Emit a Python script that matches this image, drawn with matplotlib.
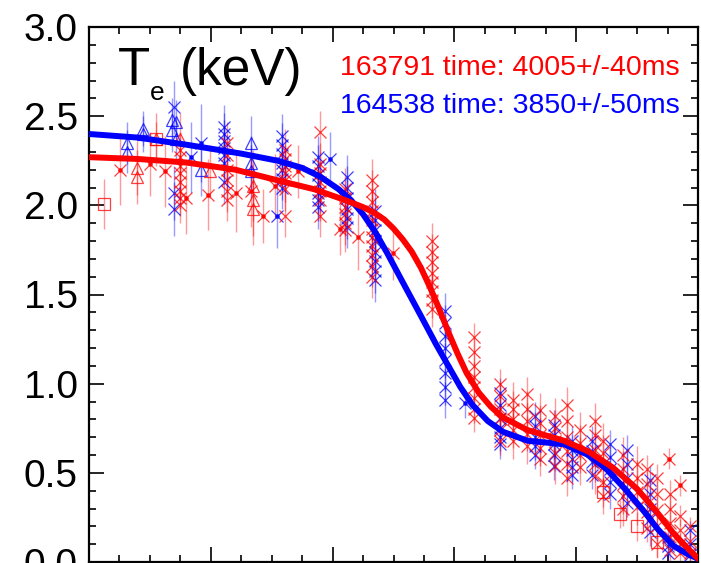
#!/usr/bin/env python3
"""
Electron temperature profiles for shots 163791 and 164538 with fitted curves
"""

import numpy as np
import matplotlib.pyplot as plt
from matplotlib.ticker import MultipleLocator

plt.rcParams['font.family'] = ['Liberation Sans', 'DejaVu Sans']

RED = '#ff0000'
BLUE = '#0000ff'

# Fitted profiles
red_fit_rho = [0.00, 0.08, 0.16, 0.24, 0.31, 0.37, 0.42, 0.45, 0.47, 0.485,
               0.50, 0.515, 0.53, 0.545, 0.56, 0.575, 0.59, 0.605, 0.62, 0.64,
               0.66, 0.68, 0.72, 0.78, 0.82, 0.86, 0.90, 0.93, 0.96, 0.985,
               1.00]
red_fit_te = [2.27, 2.26, 2.24, 2.20, 2.14, 2.09, 2.03, 1.99, 1.955, 1.92,
              1.87, 1.81, 1.74, 1.65, 1.54, 1.42, 1.29, 1.17, 1.06, 0.95,
              0.87, 0.81, 0.74, 0.68, 0.62, 0.53, 0.41, 0.29, 0.16, 0.07,
              0.02]

blue_fit_rho = [0.00, 0.08, 0.16, 0.25, 0.31, 0.35, 0.38, 0.41, 0.43, 0.45,
                0.47, 0.49, 0.515, 0.545, 0.57, 0.59, 0.61, 0.63, 0.655, 0.68,
                0.72, 0.78, 0.82, 0.85, 0.88, 0.91, 0.935, 0.96, 0.985, 1.00]
blue_fit_te = [2.40, 2.38, 2.34, 2.29, 2.25, 2.21, 2.16, 2.09, 2.03, 1.95,
               1.85, 1.73, 1.57, 1.38, 1.22, 1.10, 0.98, 0.88, 0.79, 0.73,
               0.68, 0.66, 0.60, 0.52, 0.41, 0.29, 0.18, 0.09, 0.04, 0.02]

# Red (163791) chord columns
red_col_rho = [0.149, 0.227, 0.322, 0.379, 0.420, 0.465, 0.563, 0.632, 0.675,
               0.696, 0.719, 0.741, 0.765, 0.785, 0.806, 0.831, 0.844, 0.877,
               0.900, 0.916, 0.933, 0.954, 0.970, 0.987]
red_col_te = [
    [2.31, 2.27, 2.22, 2.18, 2.13, 2.08, 2.04, 2.00],
    [2.35, 2.28, 2.20, 2.14, 2.08, 2.03],
    [2.31, 2.26, 2.22, 2.18, 2.14, 2.09, 1.94],
    [2.41, 2.23, 2.18, 2.13, 2.08, 2.03, 1.94],
    [2.09, 2.04, 1.99, 1.95, 1.90, 1.86],
    [2.14, 2.08, 2.02, 1.97, 1.92, 1.87, 1.82, 1.77, 1.72, 1.66, 1.60],
    [1.80, 1.74, 1.68, 1.62, 1.57, 1.52, 1.47, 1.42],
    [1.26, 1.18, 1.10, 1.04, 0.98, 0.92, 0.86, 0.81],
    [1.00, 0.93, 0.86, 0.80, 0.74, 0.68],
    [0.91, 0.86, 0.80, 0.74, 0.68],
    [0.94, 0.86, 0.79, 0.72, 0.65],
    [0.85, 0.78, 0.71, 0.64, 0.58],
    [0.82, 0.75, 0.68, 0.61, 0.54],
    [0.88, 0.79, 0.70, 0.62, 0.55, 0.47],
    [0.74, 0.67, 0.60, 0.53],
    [0.79, 0.71, 0.63, 0.55, 0.48],
    [0.68, 0.61, 0.53, 0.45, 0.37],
    [0.60, 0.52, 0.44, 0.37, 0.30],
    [0.55, 0.47, 0.39, 0.31],
    [0.52, 0.44, 0.36, 0.28, 0.19],
    [0.47, 0.38, 0.29, 0.20, 0.10],
    [0.38, 0.30, 0.22, 0.14, 0.07],
    [0.26, 0.18, 0.10, 0.05],
    [0.20, 0.12, 0.05],
]
red_col_err = [0.10, 0.12, 0.12, 0.12, 0.12, 0.12, 0.10, 0.08, 0.08,
               0.10, 0.10, 0.10, 0.10, 0.10, 0.10, 0.10, 0.10, 0.10,
               0.10, 0.08, 0.08, 0.08, 0.06, 0.05]

# Red single points (asterisks, triangles, squares)
red_star_rho = [0.051, 0.100, 0.125, 0.195, 0.241, 0.266, 0.305, 0.343,
                0.412, 0.442, 0.499, 0.952, 0.970, 0.286, 0.160]
red_star_te = [2.20, 2.23, 2.19, 2.06, 2.07, 2.08, 2.11, 2.19,
               1.87, 1.82, 1.73, 0.58, 0.43, 1.94, 2.04]
red_star_err = [0.20, 0.18, 0.20, 0.20, 0.22, 0.20, 0.18, 0.15,
                0.15, 0.18, 0.15, 0.06, 0.06, 0.15, 0.20]

red_tri_rho = [0.079, 0.079, 0.110, 0.149, 0.199, 0.269, 0.269, 0.269]
red_tri_te = [2.21, 2.16, 2.37, 2.37, 2.19, 2.11, 2.03, 1.98]
red_tri_err = [0.15, 0.15, 0.15, 0.15, 0.15, 0.20, 0.20, 0.20]

red_sq_rho = [0.025, 0.110, 0.844, 0.872, 0.900, 0.933]
red_sq_te = [2.01, 2.37, 0.39, 0.27, 0.20, 0.11]
red_sq_err = [0.14, 0.10, 0.08, 0.08, 0.08, 0.08]

# Blue (164538) chord columns
blue_col_rho = [0.140, 0.222, 0.317, 0.376, 0.424, 0.470, 0.585, 0.675,
                0.732, 0.764, 0.793, 0.826, 0.855, 0.883, 0.921, 0.950,
                0.987]
blue_col_te = [
    [2.55, 2.07, 1.98],
    [2.44, 2.40, 2.36, 2.32, 2.28, 2.24, 2.13],
    [2.39, 2.34, 2.29, 2.24, 2.20, 2.15, 2.10],
    [2.27, 2.22, 2.17, 2.12, 2.07, 2.03, 1.99],
    [2.16, 2.10, 2.04, 1.98, 1.93, 1.88],
    [1.97, 1.92, 1.86, 1.80, 1.74, 1.69, 1.63, 1.58],
    [1.41, 1.34, 1.27, 1.20, 1.13, 1.06, 0.98, 0.91],
    [0.95, 0.88, 0.81, 0.75, 0.70, 0.66],
    [0.82, 0.76, 0.70, 0.65, 0.60],
    [0.77, 0.71, 0.66, 0.60, 0.54],
    [0.68, 0.63, 0.58, 0.53, 0.49],
    [0.68, 0.62, 0.56, 0.49],
    [0.66, 0.59, 0.52, 0.45, 0.38],
    [0.63, 0.55, 0.47, 0.40, 0.33],
    [0.46, 0.38, 0.30, 0.24, 0.17],
    [0.14, 0.09, 0.05],
    [0.18, 0.10, 0.04],
]
blue_col_err = [0.15, 0.12, 0.12, 0.12, 0.12, 0.12, 0.10, 0.08,
                0.08, 0.08, 0.08, 0.08, 0.08, 0.08, 0.08, 0.06, 0.05]

blue_star_rho = [0.167, 0.184, 0.309, 0.396, 0.617]
blue_star_te = [2.27, 2.35, 1.94, 2.26, 0.89]
blue_star_err = [0.20, 0.22, 0.18, 0.15, 0.08]

blue_tri_rho = [0.062, 0.062, 0.089, 0.089, 0.136, 0.136, 0.143, 0.143,
                0.184, 0.266, 0.266, 0.266]
blue_tri_te = [2.35, 2.30, 2.43, 2.40, 2.48, 2.42, 2.37, 2.47,
               2.20, 2.35, 2.24, 2.19]
blue_tri_err = [0.12, 0.12, 0.10, 0.10, 0.12, 0.12, 0.12, 0.12,
                0.15, 0.15, 0.15, 0.15]


def flatten_columns(rho, te, err):
    """Expand chord columns into flat x, y, yerr arrays"""
    xs, ys, es = [], [], []
    for r, vals, e in zip(rho, te, err):
        for v in vals:
            xs.append(r)
            ys.append(v)
            es.append(e)
    return np.array(xs), np.array(ys), np.array(es)


def draw_points(ax, x, y, err, color, marker, size=8.5, dot=False):
    ax.errorbar(x, y, yerr=err, fmt='none', ecolor=color, elinewidth=1.0,
                alpha=0.4, zorder=2)
    ax.plot(x, y, linestyle='none', marker=marker, markersize=size,
            markerfacecolor='none', markeredgecolor=color,
            markeredgewidth=0.9, alpha=0.75, zorder=3)
    if dot:
        ax.plot(x, y, linestyle='none', marker='o', markersize=2.4,
                color=color, alpha=0.8, zorder=3)


def create_te_plot():
    fig = plt.figure(figsize=(7.01, 5.63), dpi=100)
    ax = fig.add_axes([89 / 701, 1 / 563, 609 / 701, 535 / 563])

    # Blue shot data
    bx, by, be = flatten_columns(blue_col_rho, blue_col_te, blue_col_err)
    draw_points(ax, bx, by, be, BLUE, 'x')
    draw_points(ax, np.array(blue_star_rho), np.array(blue_star_te),
                np.array(blue_star_err), BLUE, 'x', dot=True)
    draw_points(ax, np.array(blue_tri_rho), np.array(blue_tri_te),
                np.array(blue_tri_err), BLUE, '^', size=9)

    # Red shot data
    rx, ry, re_ = flatten_columns(red_col_rho, red_col_te, red_col_err)
    draw_points(ax, rx, ry, re_, RED, 'x')
    draw_points(ax, np.array(red_star_rho), np.array(red_star_te),
                np.array(red_star_err), RED, 'x', dot=True)
    draw_points(ax, np.array(red_tri_rho), np.array(red_tri_te),
                np.array(red_tri_err), RED, '^', size=9)
    draw_points(ax, np.array(red_sq_rho), np.array(red_sq_te),
                np.array(red_sq_err), RED, 's', size=8)

    # Fits
    ax.plot(blue_fit_rho, blue_fit_te, color=BLUE, linewidth=4.3,
            solid_capstyle='round', solid_joinstyle='round', zorder=4)
    ax.plot(red_fit_rho, red_fit_te, color=RED, linewidth=4.3,
            solid_capstyle='round', solid_joinstyle='round', zorder=5)

    ax.set_xlim(0.0, 1.0)
    ax.set_ylim(0.0, 3.0)

    ax.xaxis.set_major_locator(MultipleLocator(0.2))
    ax.xaxis.set_minor_locator(MultipleLocator(0.05))
    ax.yaxis.set_major_locator(MultipleLocator(0.5))
    ax.yaxis.set_minor_locator(MultipleLocator(0.1))
    ax.yaxis.set_major_formatter(plt.FormatStrFormatter('%.1f'))

    ax.tick_params(which='both', direction='in', top=True, right=True,
                   width=1.2, color='black')
    ax.tick_params(which='major', length=11, labelsize=28, pad=8)
    ax.tick_params(which='minor', length=5)
    ax.tick_params(axis='x', labelbottom=False)
    for spine in ax.spines.values():
        spine.set_linewidth(1.6)

    # Axis label inside the frame
    fig.text(118 / 701, 1 - 85 / 563, 'T', fontsize=38, ha='left',
             va='baseline')
    fig.text(150 / 701, 1 - 100 / 563, 'e', fontsize=19, ha='left',
             va='baseline')
    fig.text(180 / 701, 1 - 85 / 563, '(keV)', fontsize=37, ha='left',
             va='baseline')

    fig.text(340 / 701, 1 - 75 / 563, '163791 time: 4005+/-40ms',
             fontsize=20.5, color=RED, ha='left', va='baseline')
    fig.text(340 / 701, 1 - 113 / 563, '164538 time: 3850+/-50ms',
             fontsize=20.5, color=BLUE, ha='left', va='baseline')

    fig.savefig('out.png', dpi=100, facecolor='white')


if __name__ == "__main__":
    create_te_plot()
